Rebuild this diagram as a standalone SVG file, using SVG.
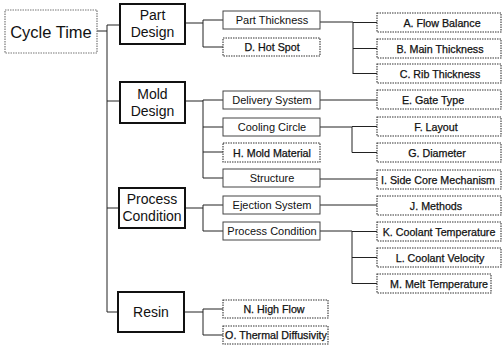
<svg xmlns="http://www.w3.org/2000/svg" width="502" height="345" viewBox="0 0 502 345">
<style>
text{font-family:"Liberation Sans",Arial,sans-serif;fill:#111;text-anchor:middle}
.l1{fill:#fff;stroke:#111;stroke-width:2}
.l2{fill:#fff;stroke:#444;stroke-width:1}
.dot{fill:#fff;stroke:#333;stroke-width:1.1;stroke-dasharray:1.5 1}
.root{fill:#fff;stroke:#777;stroke-width:1.2;stroke-dasharray:1.5 1}
.t1{font-size:14px}
.t2{font-size:11px}
.t3{font-size:10.7px;stroke:#111;stroke-width:0.25}
.c{fill:none;stroke:#222;stroke-width:1}
</style>
<g id="connectors">
<path class="c" d="M97,31H107M107,25V312M107,25H120M107,101H120M107,208H119M107,312H118"/>
<path class="c" d="M185,23H203M203,20V47M203,20H223M203,47H223"/>
<path class="c" d="M185,101H203M203,100V178M203,100H223M203,127H223M203,152H223M203,178H223"/>
<path class="c" d="M185,208H203M203,205V231M203,205H223M203,231H223"/>
<path class="c" d="M184,312H203M203,309V335M203,309H223M203,335H223"/>
<path class="c" d="M320,22H353M353,22V74M353,22.5H377M353,48.5H377M353,73.5H377"/>
<path class="c" d="M320,100H377M320,179H377M320,205H377"/>
<path class="c" d="M320,127H352M352,127V152.5M352,126.5H377M352,152.5H377"/>
<path class="c" d="M320,231H352M352,231V283.5M352,231.5H377M352,257.5H377M352,283.5H377"/>
</g>
<g id="cycle-time"><rect class="root" x="5" y="10" width="92" height="43"/><text x="51" y="38" style="font-size:16.5px">Cycle Time</text></g>
<g id="part-design"><rect class="l1" x="120" y="4" width="65" height="40"/><text class="t1" x="152.5" y="20">Part</text><text class="t1" x="152.5" y="37">Design</text></g>
<g id="mold-design"><rect class="l1" x="120" y="82" width="65" height="41"/><text class="t1" x="152.5" y="99">Mold</text><text class="t1" x="152.5" y="116">Design</text></g>
<g id="process-condition"><rect class="l1" x="119" y="188" width="66" height="40"/><text class="t1" x="152" y="204">Process</text><text class="t1" x="152" y="221">Condition</text></g>
<g id="resin"><rect class="l1" x="118" y="292" width="66" height="40"/><text class="t1" x="151" y="317">Resin</text></g>

<g id="part-thickness"><rect class="l2" x="223" y="11" width="97" height="18"/><text class="t2" x="272" y="24">Part Thickness</text></g>
<g id="hot-spot"><rect class="dot" x="223" y="38" width="97" height="18"/><text class="t3" x="272" y="51">D. Hot Spot</text></g>
<g id="delivery-system"><rect class="l2" x="223" y="91" width="97" height="18"/><text class="t2" x="272" y="104">Delivery System</text></g>
<g id="cooling-circle"><rect class="l2" x="223" y="118" width="97" height="18"/><text class="t2" x="272" y="131">Cooling Circle</text></g>
<g id="mold-material"><rect class="dot" x="223" y="143" width="97" height="19"/><text class="t3" x="272" y="156.5">H. Mold Material</text></g>
<g id="structure"><rect class="l2" x="223" y="169" width="97" height="18"/><text class="t2" x="272" y="182">Structure</text></g>
<g id="ejection-system"><rect class="l2" x="223" y="196" width="97" height="18"/><text class="t2" x="272" y="209">Ejection System</text></g>
<g id="process-condition-2"><rect class="l2" x="223" y="222" width="97" height="18"/><text class="t2" x="272" y="235">Process Condition</text></g>
<g id="high-flow"><rect class="dot" x="223" y="300" width="105" height="18"/><text class="t3" x="274" y="313">N. High Flow</text></g>
<g id="thermal-diffusivity"><rect class="dot" x="223" y="326" width="105" height="18"/><text class="t3" x="276" y="339">O. Thermal Diffusivity</text></g>

<g id="flow-balance"><rect class="dot" x="377" y="13" width="124" height="19"/><text class="t3" x="442" y="27">A. Flow Balance</text></g>
<g id="main-thickness"><rect class="dot" x="377" y="39" width="124" height="19"/><text class="t3" x="440" y="53">B. Main Thickness</text></g>
<g id="rib-thickness"><rect class="dot" x="377" y="64" width="124" height="19"/><text class="t3" x="440" y="78">C. Rib Thickness</text></g>
<g id="gate-type"><rect class="dot" x="377" y="90" width="124" height="19"/><text class="t3" x="433" y="104">E. Gate Type</text></g>
<g id="layout"><rect class="dot" x="377" y="117" width="124" height="19"/><text class="t3" x="436" y="131">F. Layout</text></g>
<g id="diameter"><rect class="dot" x="377" y="143" width="124" height="19"/><text class="t3" x="437" y="157">G. Diameter</text></g>
<g id="side-core"><rect class="dot" x="377" y="170" width="124" height="19"/><text class="t3" x="438" y="184">I. Side Core Mechanism</text></g>
<g id="methods"><rect class="dot" x="377" y="196" width="124" height="19"/><text class="t3" x="436" y="210">J. Methods</text></g>
<g id="coolant-temperature"><rect class="dot" x="377" y="222" width="124" height="19"/><text class="t3" x="439" y="236">K. Coolant Temperature</text></g>
<g id="coolant-velocity"><rect class="dot" x="377" y="248" width="124" height="19"/><text class="t3" x="440" y="262">L. Coolant Velocity</text></g>
<g id="melt-temperature"><rect class="dot" x="377" y="274" width="114" height="19"/><text class="t3" x="439" y="288">M. Melt Temperature</text></g>
</svg>
